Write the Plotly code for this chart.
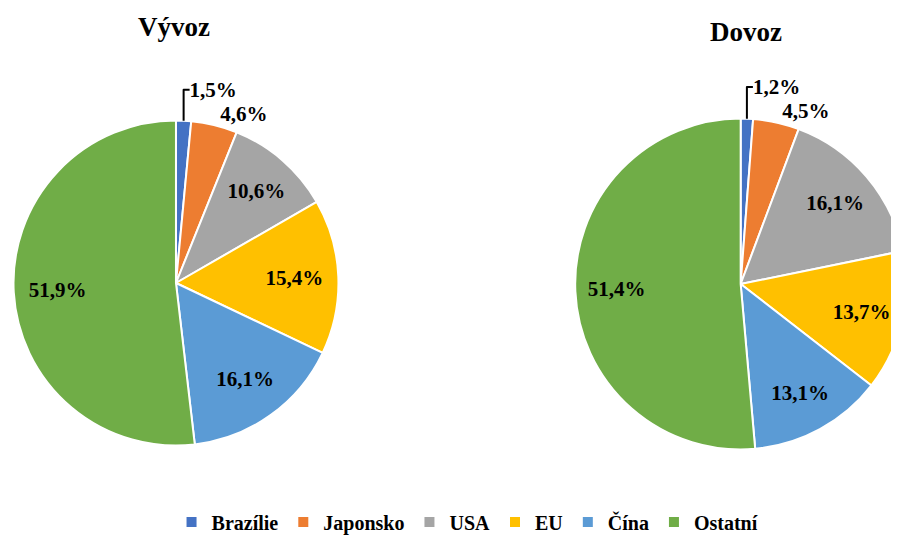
import plotly.graph_objects as go

categories = ["Brazílie", "Japonsko", "USA", "EU", "Čína", "Ostatní"]
vyvoz = [1.5, 4.6, 10.6, 15.4, 16.1, 51.9]
dovoz = [1.2, 4.5, 16.1, 13.7, 13.1, 51.4]
titles = ["Vývoz", "Dovoz"]
colors = ["#4472C4", "#ED7D31", "#A5A5A5", "#FFC000", "#5B9BD5", "#70AD47"]

OFF = 8  # default page body margin
W, H = 940, 535
FONT = "Liberation Serif"


def fmt(v):
    return f"{v:.1f}".replace(".", ",") + "%"


def dom(cx, cy, r):
    cx, cy = cx - OFF, cy - OFF
    return dict(x=[max(0, (cx - r) / W), min(1, (cx + r) / W)],
                y=[(H - cy - r) / H, (H - cy + r) / H])


positions = ["outside", "outside", "inside", "inside", "inside", "inside"]

fig = go.Figure()
for vals, d, hole in [(vyvoz, dom(173.5, 283, 163), 0.46), (dovoz, dom(740, 284, 166), 0.5)]:
    # coloured pie
    fig.add_trace(go.Pie(
        labels=categories, values=vals, textinfo="none", sort=False,
        direction="clockwise", rotation=0,
        marker=dict(colors=colors, line=dict(color="white", width=2)),
        domain=d, showlegend=(vals is vyvoz), hoverinfo="label+percent",
    ))
    # label layer: transparent ring so inside labels sit at ~0.75 r
    fig.add_trace(go.Pie(
        labels=categories, values=vals, text=[fmt(v) for v in vals],
        textinfo="text", sort=False, direction="clockwise", rotation=0, hole=hole,
        marker=dict(colors=["rgba(0,0,0,0)"] * 6, line=dict(width=0)),
        textposition=positions, insidetextorientation="horizontal",
        textfont=dict(family=FONT, size=21, color="black", weight="bold"),
        outsidetextfont=dict(family=FONT, size=21, color="black", weight="bold"),
        domain=d, showlegend=False, hoverinfo="skip",
    ))

for t, sx, sy in [(titles[0], 172, 27), (titles[1], 745, 32)]:
    fig.add_annotation(text=t, x=(sx - OFF) / W, y=1 - (sy - OFF) / H,
                       xref="paper", yref="paper", xanchor="center", yanchor="middle",
                       showarrow=False,
                       font=dict(family=FONT, size=27, color="black", weight="bold"))

fig.update_layout(
    width=W, height=H, margin=dict(l=0, r=0, t=0, b=0),
    paper_bgcolor="white", plot_bgcolor="white",
    legend=dict(orientation="h", x=(466 - OFF) / W, xanchor="center",
                y=1 - (522 - OFF) / H, yanchor="middle",
                font=dict(family=FONT, size=20, color="black", weight="bold"),
                traceorder="normal", itemsizing="constant"),
)

fig.write_html("out.html")
